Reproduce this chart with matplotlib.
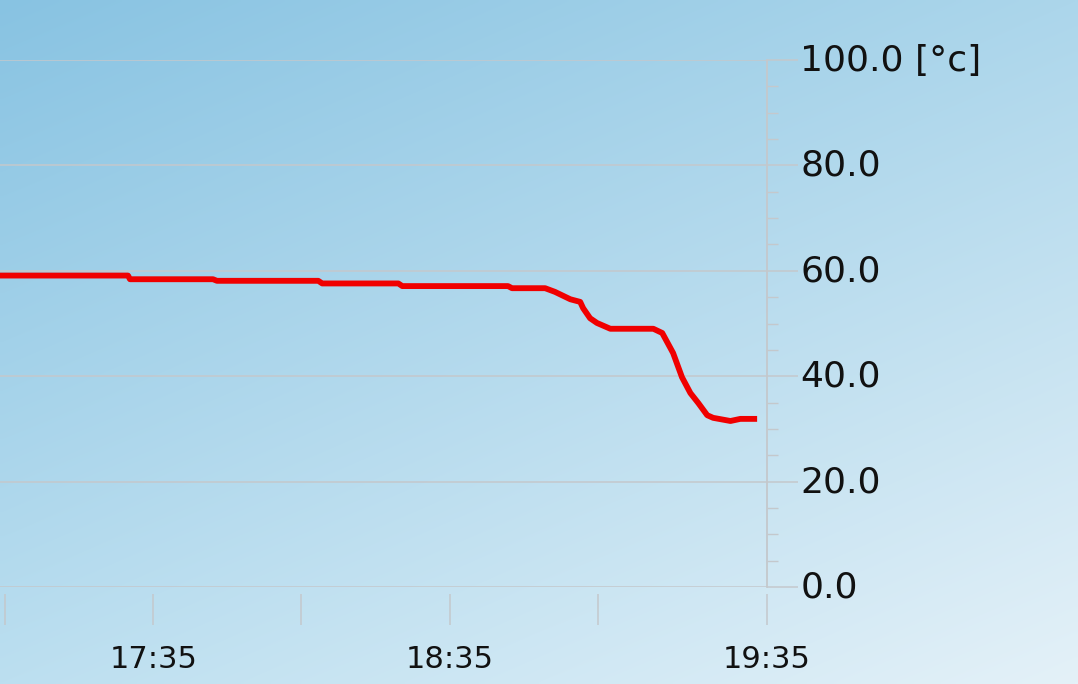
import matplotlib
matplotlib.use('Agg')
import matplotlib.pyplot as plt
import matplotlib.transforms as mtransforms
import numpy as np
from matplotlib.ticker import MultipleLocator

# temperature log, minutes after 17:05
minutes = [-1.0, 24.9, 25.3, 42.1, 42.9, 63.4, 64.2, 79.6, 80.4, 101.8, 102.6,
           109.3, 111.3, 114.4, 116.4, 117.0, 118.4, 119.8, 122.5, 131.2, 133.0,
           135.2, 137.0, 138.7, 140.3, 142.1, 143.3, 146.8, 148.8, 152.2]
temps = [59.1, 59.1, 58.4, 58.4, 58.1, 58.1, 57.6, 57.6, 57.1, 57.1, 56.7,
         56.7, 56.0, 54.6, 54.1, 52.9, 51.0, 50.1, 49.0, 49.0, 48.2,
         44.4, 39.8, 36.8, 34.9, 32.6, 32.1, 31.5, 31.9, 31.9]

x_ticks = [0, 30, 60, 90, 120, 154.2]
x_labels = ['', '17:35', '', '18:35', '', '19:35']
y_ticks = [0, 20, 40, 60, 80, 100]
y_labels = ['0.0', '20.0', '40.0', '60.0', '80.0', '100.0 [°c]']

W, H = 1078, 684
fig = plt.figure(figsize=(W / 100, H / 100), dpi=100)

# background gradient (corner colours)
tl = np.array([136, 195, 226]) / 255
tr = np.array([172, 214, 235]) / 255
bl = np.array([188, 223, 240]) / 255
br = np.array([228, 241, 248]) / 255
u = np.linspace(0, 1, 200)[None, :, None]
v = np.linspace(0, 1, 200)[:, None, None]
grad = (1 - v) * ((1 - u) * tl + u * tr) + v * ((1 - u) * bl + u * br)
bg = fig.add_axes([0, 0, 1, 1], zorder=-1)
bg.imshow(grad, aspect='auto', extent=[0, 1, 0, 1], interpolation='bilinear')
bg.axis('off')

ax = fig.add_axes([0, 1 - 587 / H, 767 / W, (587 - 60) / H])
ax.patch.set_alpha(0)

ax.plot(minutes, temps, color='#f00000', lw=4.2, solid_joinstyle='round',
        solid_capstyle='butt', zorder=3)

ax.set_xlim(-1, 154.2)
ax.set_ylim(0, 100)

grid_c = '#c4c8cc'
ax.set_yticks(y_ticks)
ax.set_yticklabels(y_labels)
ax.yaxis.set_minor_locator(MultipleLocator(5))
ax.yaxis.tick_right()
ax.tick_params(axis='y', which='major', length=22, width=1.1, color=grid_c,
               pad=2, labelsize=26, labelcolor='#111111')
ax.tick_params(axis='y', which='minor', length=8, width=1.0, color=grid_c)
# nudge the y labels up a little, as in the original
shift = mtransforms.ScaledTranslation(0, 3 / 100, fig.dpi_scale_trans)
for lab in ax.get_yticklabels():
    lab.set_transform(lab.get_transform() + shift)
ax.grid(axis='y', color=grid_c, lw=1.1)

ax.set_xticks(x_ticks)
ax.set_xticklabels(x_labels)
ax.tick_params(axis='x', which='major', length=22, width=1.1, color=grid_c,
               pad=15, labelsize=22, labelcolor='#111111')

for side in ['left', 'top']:
    ax.spines[side].set_visible(False)
ax.spines['bottom'].set_position(('outward', 5))
ax.spines['bottom'].set_visible(False)
ax.spines['right'].set_color(grid_c)
ax.spines['right'].set_linewidth(1.3)

fig.savefig('out.png', dpi=100)
